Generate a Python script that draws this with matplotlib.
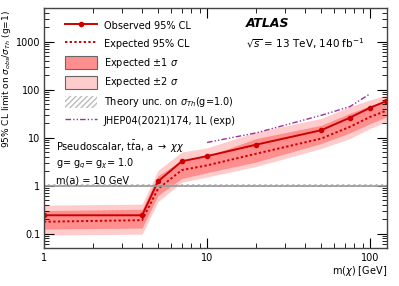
import matplotlib.pyplot as plt
from matplotlib.lines import Line2D
from matplotlib.patches import Patch

# m(chi) points [GeV]
mchi = [1, 4, 5, 7, 10, 20, 50, 75, 100, 125]
observed = [0.24, 0.24, 1.22, 3.2, 4.1, 7.1, 14.2, 25.9, 42, 57]
expected = [0.176, 0.19, 0.85, 2.1, 2.63, 4.6, 9.5, 16.7, 27, 36]
exp_1s_up = [0.30, 0.32, 1.6, 3.3, 4.1, 9.5, 18, 32, 46, 58]
exp_1s_dn = [0.124, 0.13, 0.62, 1.4, 1.85, 3.1, 7.5, 12.5, 19.5, 27]
exp_2s_up = [0.39, 0.41, 2.06, 5.0, 6.1, 13, 25, 44, 61, 77]
exp_2s_dn = [0.093, 0.097, 0.46, 1.17, 1.5, 2.5, 5.9, 9.5, 15.5, 21]

# previous result JHEP04(2021)174
prev_mchi = [10, 20, 50, 75, 100]
prev_limit = [7.9, 12.5, 29, 44, 82]

red = '#cc0000'
band1 = '#ff8f8f'
band2 = '#ffcccc'
purple = '#993399'

fig = plt.figure(figsize=(3.99, 2.86), dpi=100)
ax = fig.add_axes([0.110, 0.133, 0.859, 0.839])

ax.fill_between(mchi, exp_2s_dn, exp_2s_up, color=band2, lw=0)
ax.fill_between(mchi, exp_1s_dn, exp_1s_up, color=band1, lw=0)
ax.plot(mchi, expected, ls=(0, (1.2, 1.2)), color=red, lw=1.4)
ax.plot(mchi, observed, '-', color=red, lw=1.4, marker='o', ms=3)
ax.plot(prev_mchi, prev_limit, ls=(0, (4, 1.5, 1, 1.5, 1, 1.5)), color=purple, lw=1.0)

# theory line with hatched uncertainty
ax.fill_between([1, 130], 0.94, 1.06, facecolor='none', edgecolor='#bbbbbb',
                hatch='//////', lw=0)
ax.axhline(1, color='#999999', lw=1.2)

ax.set_xscale('log')
ax.set_yscale('log')
ax.set_xlim(1, 126)
ax.set_ylim(0.05, 5000)
ax.set_xticks([1, 10, 100])
ax.set_xticklabels(['1', '10', '100'])
ax.set_yticks([0.1, 1, 10, 100, 1000])
ax.set_yticklabels(['0.1', '1', '10', '100', '1000'])
ax.tick_params(which='both', direction='in', top=True, right=True, labelsize=7)
ax.tick_params(axis='y', pad=2.5)
ax.tick_params(which='major', length=7)
ax.tick_params(which='minor', length=3.5)
for s in ax.spines.values():
    s.set_linewidth(1.0)
    s.set_color('#444444')

ax.set_xlabel(r'm($\chi$) [GeV]', fontsize=7, loc='right', labelpad=1)
ax.set_ylabel(r'95% CL limit on $\sigma_{obs}/\sigma_{Th}$ (g=1)', fontsize=6.5,
              loc='top')
ax.yaxis.set_label_coords(-0.09, 0.99)

handles = [
    Line2D([], [], color=red, lw=1.4, marker='o', ms=3),
    Line2D([], [], color=red, lw=1.4, ls=(0, (1.2, 1.2))),
    Patch(facecolor=band1, edgecolor='#666666', lw=0.8),
    Patch(facecolor=band2, edgecolor='#666666', lw=0.8),
    Patch(facecolor='white', edgecolor='#bbbbbb', hatch='//////', lw=0),
    Line2D([], [], color=purple, lw=1.0, ls=(0, (4, 1.5, 1, 1.5, 1, 1.5))),
]
labels = ['Observed 95% CL', 'Expected 95% CL', r'Expected $\pm$1 $\sigma$',
          r'Expected $\pm$2 $\sigma$', r'Theory unc. on $\sigma_{Th}$(g=1.0)',
          'JHEP04(2021)174, 1L (exp)']
ax.legend(handles, labels, loc='upper left', bbox_to_anchor=(0.05, 0.968),
          frameon=False, fontsize=7, handlelength=3.3, handleheight=1.6,
          labelspacing=0.58, handletextpad=0.7, borderaxespad=0)

ax.text(0.59, 0.9375, 'ATLAS', transform=ax.transAxes, fontsize=9,
        fontweight='bold', style='italic', va='center')
ax.text(0.59, 0.852, r'$\sqrt{s}$ = 13 TeV, 140 fb$^{-1}$', transform=ax.transAxes,
        fontsize=7.5, va='center')
ax.text(0.035, 0.42, r'Pseudoscalar, t$\bar{t}$a, a $\rightarrow$ $\chi\chi$',
        transform=ax.transAxes, fontsize=7, va='center')
ax.text(0.035, 0.352, r'g= g$_q$= g$_\chi$= 1.0', transform=ax.transAxes,
        fontsize=7, va='center')
ax.text(0.035, 0.283, 'm(a) = 10 GeV', transform=ax.transAxes, fontsize=7,
        va='center')

fig.savefig('out.png', dpi=100)
